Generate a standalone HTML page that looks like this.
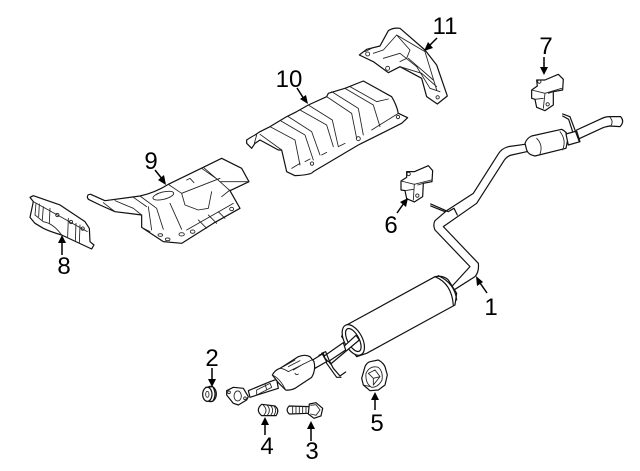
<!DOCTYPE html>
<html><head><meta charset="utf-8"><style>
html,body{margin:0;padding:0;background:#fff}
svg{display:block}
.p path,.p ellipse,.p circle,.p line{fill:#fff;stroke:#111;stroke-width:3.6;stroke-linejoin:round;stroke-linecap:round}
.p .o{fill:none}
.p .t{fill:none;stroke-width:2.6;stroke:#222}
.a line{stroke:#000;stroke-width:1.5}
.a path{fill:#000}
text{font-family:"Liberation Sans",sans-serif;font-size:24px;fill:#000;text-anchor:middle}
</style></head><body>
<svg width="640" height="471" viewBox="0 0 640 471" xmlns="http://www.w3.org/2000/svg">
<rect width="640" height="471" fill="#fff"/>

<!-- 8 -->
<g class="p" transform="translate(0,140) scale(.3333)">
<path d="M90 172L100 167L180 195L255 245L268 265L270 305L282 315L275 327L185 285Q150 275 130 265L105 250L90 232L100 185Z"/>
<path class="t" d="M100 185L262 275M108 190L105 225L130 245Q160 250 185 285M150 205L148 250M205 235L203 290M228 250L226 305M240 255L238 310M130 200L127 240M118 192L116 230"/>
<circle class="t" cx="172" cy="225" r="5"/><circle class="t" cx="213" cy="246" r="5"/><circle class="t" cx="248" cy="266" r="5"/>
</g>

<!-- 9 -->
<g class="p" transform="translate(0,140) scale(.3333)">
<path d="M262 172Q262 162 272 163L315 182L420 168Q465 158 505 133L610 82L665 55L725 85L747 125L690 152L720 205L640 250L545 310L490 305L425 262L425 225L345 215L300 195L265 178Z"/>
<path class="t" d="M310 188L345 215M345 182L400 205L425 225M400 172L440 200M420 168L470 205M505 133L545 160L555 195L595 210L625 205L635 155M610 82L660 125L690 152M660 125L745 125M470 205L490 268M510 190L545 268M445 200L455 270M545 160L660 115M560 120L570 115L582 128M595 240L620 265M625 225L650 250M655 215L675 235M560 270L700 190M425 262L450 275M690 150L665 170M605 85L655 120"/>
<ellipse class="t" cx="490" cy="167" rx="32" ry="11" transform="rotate(-14 490 167)"/>
<ellipse class="t" cx="481" cy="285" rx="7" ry="4"/><ellipse class="t" cx="503" cy="298" rx="7" ry="4"/><ellipse class="t" cx="545" cy="283" rx="8" ry="5"/><ellipse class="t" cx="578" cy="275" rx="7" ry="5"/><ellipse class="t" cx="695" cy="207" rx="6" ry="5"/>
</g>

<!-- 10 -->
<g class="p" transform="translate(245,75) scale(.3333)">
<path d="M5 195Q20 185 30 180L45 170L75 155L125 125L155 110L190 90L245 65L250 55L300 40L355 18L440 65Q455 90 460 115L488 128L470 145L350 205L340 210L205 290Q200 300 150 302L125 290L110 225L100 225L45 195L30 205L20 220L5 205Z"/>
<path class="t" d="M45 178L110 225M75 155L150 195L165 270M108 138L180 180L205 255M130 125L200 170L225 240M165 105L245 150L265 215M190 90L262 135L280 215M245 65L320 115L335 190M260 50L340 100L355 180M300 40L385 90L405 155M315 35L395 80M395 80L430 72M460 115L380 165M140 280L165 265M180 260L195 252M230 240L245 232M280 215L300 205M35 180L28 205"/>
<circle class="t" cx="201" cy="266" r="5"/><circle class="t" cx="340" cy="191" r="6"/><circle class="t" cx="459" cy="126" r="5"/>
</g>

<!-- 11 -->
<g class="p" transform="translate(240,10) scale(.3333)">
<path d="M358 135L380 118L420 108L445 62Q460 52 480 55L555 120L590 165L622 258L592 282L560 260L545 205L480 170L445 188L400 155Z"/>
<path class="t" d="M400 130L430 120L470 75L510 120L500 145L480 155M470 75L555 125M430 145L480 130L530 170L570 235L600 245M480 170L545 190L590 230M555 125L590 240M505 145L580 210M395 115L375 125"/>
<circle class="t" cx="383" cy="132" r="6"/><circle class="t" cx="443" cy="175" r="6"/><circle class="t" cx="593" cy="262" r="5"/>
</g>

<!-- 1 tail, 6, 7 -->
<g class="p" transform="translate(380,30) scale(.3333)">
<path class="o" d="M215 770L270 710L165 600Q158 585 165 572L200 542L280 490L355 372Q365 355 385 350L435 343"/>
<path class="o" d="M225 778L285 740Q298 725 295 700L190 590L290 520L370 395Q380 378 395 375L440 365"/>
<path d="M435 340Q440 325 455 318L545 298Q560 305 565 320L558 355L465 378Q445 375 440 360Z"/>
<path class="t" d="M470 325Q490 345 480 372M540 305Q560 330 548 360"/>
<path d="M558 312L590 303L600 335L565 345Z"/>
<path class="o" d="M590 300L660 268Q675 260 690 260L722 260Q735 275 720 290L690 288Q675 290 665 295L600 325"/>
<path class="t" d="M690 262Q702 275 692 288"/>
<path class="o" d="M548 252L570 260L585 300L598 335M548 258L566 268L578 305"/>
<path class="o" d="M152 522L205 545L222 535L232 555M152 528L195 545"/>

<path d="M470 150L495 150L535 133L550 148L548 180L520 185L520 225L495 242L470 232L465 208L455 205L455 180L472 168Z"/>
<path class="t" d="M455 180L495 190L545 175M495 190L490 235M465 208L490 205M520 185L505 190"/>
<circle class="t" cx="503" cy="223" r="5"/><circle class="t" cx="478" cy="155" r="5"/>

<path d="M80 425L103 425L145 407L158 422L156 455L130 460L128 500L103 516L80 506L75 482L63 480L63 453L80 442Z"/>
<path class="t" d="M63 453L103 463L154 450M103 463L100 510M75 482L100 478M130 460L113 465"/>
<circle class="t" cx="112" cy="497" r="5"/><circle class="t" cx="86" cy="432" r="5"/>
</g>

<!-- muffler and small parts -->
<g class="p" transform="translate(190,260) scale(.3333)">
<path d="M470 195L735 50Q760 45 775 60L800 100L795 135L530 280L500 290L455 230Z"/>
<path class="o" d="M735 50Q785 70 790 135M745 47Q795 70 800 120"/>
<ellipse cx="490" cy="240" rx="27" ry="50" transform="rotate(-28 490 240)"/>
<ellipse cx="490" cy="240" rx="17" ry="38" transform="rotate(-28 490 240)"/>
<path d="M415 302L498 226L508 240L422 312Z"/>

<!-- 2 -->
<ellipse cx="62" cy="402" rx="17" ry="23"/>
<path d="M47 382L68 380Q82 402 68 424L50 424"/>
<ellipse cx="52" cy="403" rx="14" ry="21"/><ellipse class="t" cx="52" cy="403" rx="5" ry="9"/>

<!-- 4 -->
<path d="M215 433L255 438Q270 450 258 467L215 467Q195 450 215 433Z"/>
<path class="t" d="M220 436Q235 450 222 465M232 436Q244 450 232 466M242 437Q254 450 242 466M252 438Q262 450 252 466"/>

<!-- 3 -->
<path d="M298 438L358 440L358 460L298 462Q285 450 298 438Z"/>
<path class="t" d="M308 440V460M318 440V460M328 440V460M338 440V460M348 440V460"/>
<path d="M358 432L378 428L398 445L393 468L372 475L355 462Z"/>
<path class="t" d="M378 434L390 450L378 466L362 462M378 434L362 436"/>
</g>

<!-- front pipe / converter -->
<g class="p" transform="translate(215,340) scale(.3333)">
<path d="M325 50L385 8L392 30L340 65Z"/>
<path class="o" d="M320 40L332 35L342 60L355 85L375 108L392 96M312 46L325 40L335 70L365 112L378 112"/>
<path d="M290 62L322 42L335 65L300 85Z"/>
<path d="M100 152L165 125L185 118L190 145L105 172Z"/>
<path d="M172 105Q180 90 195 85L250 50Q270 42 285 50L297 65Q303 90 290 112L240 145Q225 152 212 150L190 128Z"/>
<path class="t" d="M172 105Q195 115 212 150M195 85Q205 85 220 95L290 60M205 80L240 60M220 80L255 62M235 90L265 72M240 100A6 6 0 0 0 250 102"/>
<path class="t" d="M125 150L165 130L170 142L125 165ZM150 132L155 148"/>
<path d="M35 152L55 142L85 145L100 170L95 180L70 195L55 190L35 165Z"/>
<ellipse class="t" cx="68" cy="168" rx="11" ry="15"/><circle class="t" cx="42" cy="157" r="4"/><circle class="t" cx="90" cy="175" r="4"/>
</g>

<!-- 5 -->
<g class="p" transform="translate(350,350) scale(.3333)">
<path d="M45 50Q50 38 60 35L85 30Q100 38 105 50L112 75L105 105L85 120L60 122L40 105L35 85Z"/>
<path class="t" d="M48 70Q60 45 85 52Q100 65 96 90Q85 112 65 112Q45 100 48 70ZM55 70L75 60L90 80L70 105M55 70L70 85L90 80M70 85L70 105M40 105L62 110"/>
</g>

<!-- arrows -->
<g class="a">
<line x1="487" y1="293" x2="478" y2="280"/><path d="M476 276L483 282L477 286Z"/>
<line x1="212" y1="368" x2="212" y2="380"/><path d="M212 387L208 379L216 379Z"/>
<line x1="311" y1="441" x2="311" y2="428"/><path d="M311 421L307 429L315 429Z"/>
<line x1="265" y1="435" x2="265" y2="424"/><path d="M265 417L261 425L269 425Z"/>
<line x1="375" y1="410" x2="375" y2="399"/><path d="M375 392L371 400L379 400Z"/>
<line x1="397" y1="213" x2="404" y2="203"/><path d="M408 198L406 207L400 202Z"/>
<line x1="544" y1="57" x2="544" y2="68"/><path d="M544 75L540 67L548 67Z"/>
<line x1="62" y1="255" x2="62" y2="242"/><path d="M62 235L58 243L66 243Z"/>
<line x1="155" y1="170" x2="163" y2="180"/><path d="M166 185L158 180L164 175Z"/>
<line x1="297" y1="88" x2="304" y2="99"/><path d="M308 104L300 99L306 95Z"/>
<line x1="437" y1="38" x2="428" y2="47"/><path d="M424 51L428 42L433 48Z"/>
</g>

<!-- labels -->
<text x="491" y="315">1</text>
<text x="212" y="366">2</text>
<text x="312" y="459">3</text>
<text x="267" y="454">4</text>
<text x="377" y="431">5</text>
<text x="391" y="233">6</text>
<text x="546" y="54">7</text>
<text x="64" y="274">8</text>
<text x="151" y="169">9</text>
<text x="289" y="87">10</text>
<text x="445" y="34">11</text>
</svg>
</body></html>
